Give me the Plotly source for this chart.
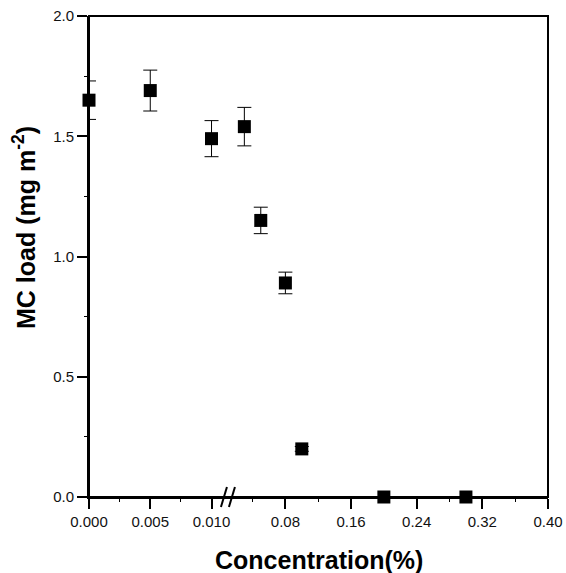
import plotly.graph_objects as go

# ---- data ----
conc_low = [0.000, 0.005, 0.010]
load_low = [1.65, 1.69, 1.49]
err_low = [0.08, 0.085, 0.075]

conc_high = [0.03, 0.05, 0.08, 0.10, 0.20, 0.30]
load_high = [1.54, 1.15, 0.89, 0.20, 0.0, 0.0]
err_high = [0.08, 0.055, 0.045, 0.01, 0.0, 0.0]

x_title = "Concentration(%)"
y_title = "MC load (mg m<sup>-2</sup>)"

W, H = 566, 573
L, T = 89, 16
PW, PH = 459, 481
R, B = W - L - PW, H - T - PH
split = 0.3027  # domain position of the axis break

marker = dict(symbol="square", size=13, color="black")
errstyle = dict(type="data", visible=True, color="black", thickness=1, width=7)

fig = go.Figure()
fig.add_trace(go.Scatter(x=conc_low, y=load_low, mode="markers", marker=marker,
                         error_y=dict(array=err_low, **errstyle),
                         xaxis="x", yaxis="y", cliponaxis=False, showlegend=False))
fig.add_trace(go.Scatter(x=conc_high, y=load_high, mode="markers", marker=marker,
                         error_y=dict(array=err_high, **errstyle),
                         xaxis="x2", yaxis="y", cliponaxis=False, showlegend=False))

tickfont = dict(family="Liberation Sans, Arial, sans-serif", size=15, color="#111")
common_x = dict(showline=True, linecolor="black", linewidth=2, ticks="outside",
                ticklen=10, tickwidth=2, tickcolor="black", showgrid=False,
                zeroline=False, tickfont=tickfont, anchor="y",
                ticklabeloverflow="allow", automargin=False)

fig.update_layout(
    width=W, height=H,
    margin=dict(l=L, r=R, t=T, b=B),
    paper_bgcolor="white", plot_bgcolor="white",
    xaxis=dict(domain=[0, split], range=[0, 0.01134], tick0=0, dtick=0.005,
               tickformat=".3f",
               minor=dict(dtick=0.0025, ticks="outside", ticklen=3, tickcolor="black", tickwidth=1),
               **common_x),
    xaxis2=dict(domain=[split, 1], range=[0.01, 0.40], tick0=0, dtick=0.08,
                tickformat=".2f",
                minor=dict(tick0=0, dtick=0.04, ticks="outside", ticklen=3, tickcolor="black", tickwidth=1),
                **common_x),
    yaxis=dict(range=[0, 2], tick0=0, dtick=0.5, tickformat=".1f",
               showline=True, linecolor="black", linewidth=2, ticks="outside",
               ticklen=10, tickwidth=2, tickcolor="black", showgrid=False,
               zeroline=False, tickfont=tickfont, anchor="x",
               ticklabeloverflow="allow", automargin=False,
               minor=dict(dtick=0.25, ticks="outside", ticklen=3, tickcolor="black", tickwidth=1)),
    font=dict(family="Liberation Sans, Arial, sans-serif", color="black"),
)

# frame (top and right sides)
fig.add_shape(type="rect", xref="paper", yref="paper", x0=0, x1=1, y0=0, y1=1,
              line=dict(color="black", width=2), fillcolor="rgba(0,0,0,0)", layer="above")

# axis-break marks "//"
for dx in (-4, 4):
    fig.add_shape(type="line", xref="paper", yref="paper",
                  x0=split + (dx - 3) / PW, x1=split + (dx + 3) / PW,
                  y0=-10 / PH, y1=10 / PH,
                  line=dict(color="black", width=2), layer="above")

# axis titles (positions given in window pixels)
fig.add_annotation(text=f"<b>{x_title}</b>", xref="paper", yref="paper",
                   x=(318.5 - L) / PW, y=-(560 - (T + PH)) / PH,
                   xanchor="center", yanchor="middle", showarrow=False,
                   font=dict(size=25, family="Liberation Sans, Arial, sans-serif", color="black"))
fig.add_annotation(text=f"<b>{y_title}</b>", xref="paper", yref="paper",
                   x=-(L - 24) / PW, y=((T + PH) - 228) / PH, textangle=-90,
                   xanchor="center", yanchor="middle", showarrow=False,
                   font=dict(size=25, family="Liberation Sans, Arial, sans-serif", color="black"))

fig.write_html("out.html",
               config={"displayModeBar": False},
               post_script="document.body.style.margin='0';document.body.style.overflow='hidden';")
